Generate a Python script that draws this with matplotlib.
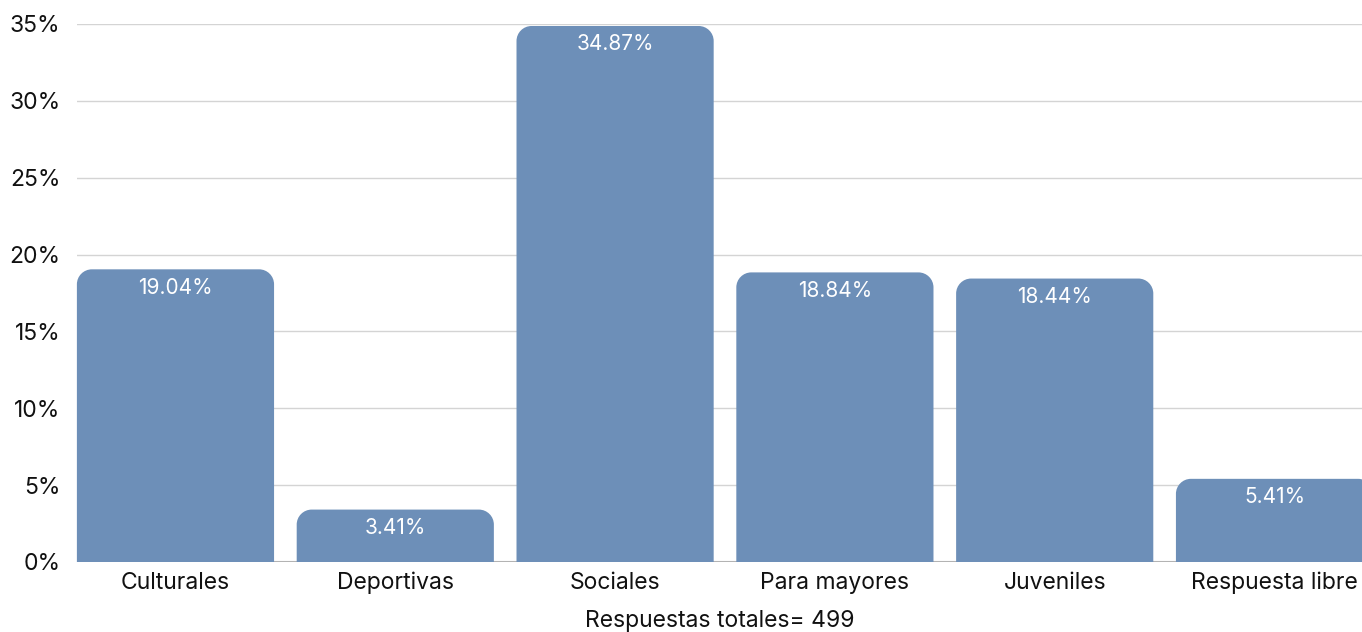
import matplotlib
matplotlib.use("Agg")
import matplotlib.pyplot as plt
from matplotlib.path import Path
from matplotlib.patches import PathPatch
from matplotlib.ticker import FuncFormatter, MultipleLocator

categories = ["Culturales", "Deportivas", "Sociales", "Para mayores", "Juveniles", "Respuesta libre"]
values = [19.04, 3.41, 34.87, 18.84, 18.44, 5.41]
xlabel_text = "Respuestas totales= 499"

plt.rcParams['font.family'] = ['Inter', 'DejaVu Sans']

W, H = 1362, 632
fig = plt.figure(figsize=(W / 100, H / 100), dpi=100)
ax = fig.add_axes([77 / W, (H - 562) / H, 1 - 77 / W, (562 - 24) / H])

bar_color = "#6D8FB8"
width = 0.897
x = list(range(len(categories)))
ax.set_xlim(-0.448, 5.398)
ax.set_ylim(0, 35)

bars = ax.bar(x, values, width=width, color="none", edgecolor="none")

# px per data unit
px_x = (W - 77) / (5.398 + 0.448)
px_y = (562 - 24) / 35
r_px = 15
rx, ry = r_px / px_x, r_px / px_y
k = 0.5523
for b in bars:
    x0, w, h = b.get_x(), b.get_width(), b.get_height()
    x1 = x0 + w
    verts = [(x0, 0), (x0, h - ry),
             (x0, h - ry + k * ry), (x0 + rx - k * rx, h), (x0 + rx, h),
             (x1 - rx, h),
             (x1 - rx + k * rx, h), (x1, h - ry + k * ry), (x1, h - ry),
             (x1, 0), (x0, 0)]
    codes = [Path.MOVETO, Path.LINETO,
             Path.CURVE4, Path.CURVE4, Path.CURVE4,
             Path.LINETO,
             Path.CURVE4, Path.CURVE4, Path.CURVE4,
             Path.LINETO, Path.CLOSEPOLY]
    ax.add_patch(PathPatch(Path(verts, codes), facecolor=bar_color, edgecolor="none", zorder=3, clip_on=False))
    ax.annotate(f"{h:.2f}%", (x0 + w / 2, h), xytext=(0, -6), textcoords="offset points",
                ha="center", va="top", color="white", fontsize=15, zorder=4)

ax.yaxis.set_major_locator(MultipleLocator(5))
ax.yaxis.set_major_formatter(FuncFormatter(lambda v, p: f"{v:.0f}%"))
ax.grid(axis="y", color="#d4d4d4", linewidth=1.0, zorder=0)
ax.set_axisbelow(True)
ax.axhline(0, color="#b3b3b3", linewidth=1.5, zorder=2)
for s in ax.spines.values():
    s.set_visible(False)
ax.set_xticks(x)
ax.set_xticklabels(categories)
ax.tick_params(axis="x", length=0, pad=7, labelsize=16.5, labelcolor="#111111")
ax.tick_params(axis="y", length=0, pad=12, labelsize=16.5, labelcolor="#111111")
ax.set_xlabel(xlabel_text, fontsize=16.5, color="#111111", labelpad=11)

fig.savefig("out.png", dpi=100)
